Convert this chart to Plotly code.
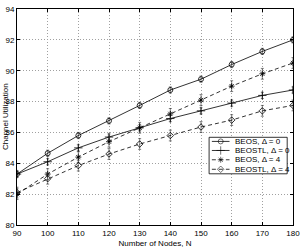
import plotly.graph_objects as go

nodes = [90, 100, 110, 120, 130, 140, 150, 160, 170, 180]
beos_d0 = [83.3, 84.65, 85.8, 86.75, 87.75, 88.75, 89.45, 90.4, 91.25, 92.0]
beostl_d0 = [83.3, 84.1, 85.0, 85.7, 86.3, 86.9, 87.4, 87.9, 88.4, 88.75]
beos_d4 = [82.0, 83.3, 84.4, 85.4, 86.3, 87.2, 88.1, 89.0, 89.8, 90.5]
beostl_d4 = [82.1, 83.0, 83.85, 84.6, 85.25, 85.8, 86.35, 86.8, 87.4, 87.75]
err_d0 = [0.2] * 10
err_d4 = [0.35] * 10

series = [
    ("BEOS, Δ = 0", beos_d0, err_d0, "solid", "circle-open", 5),
    ("BEOSTL, Δ = 0", beostl_d0, err_d0, "solid", "cross-thin-open", 6),
    ("BEOS, Δ = 4", beos_d4, err_d4, "4px,3px", "asterisk-open", 5),
    ("BEOSTL, Δ = 4", beostl_d4, err_d4, "4px,3px", "diamond-open", 5),
]

# legend layout (paper fractions)
LEG_BOX = (0.696, 0.237, 0.979, 0.406)
LEG_ROWS = [0.387, 0.345, 0.302, 0.258]
LEG_LINE = (0.706, 0.770)
LEG_MARK = 0.738
LEG_TEXT = 0.781

fig = go.Figure()
for name, ys, err, dash, sym, sz in series:
    fig.add_trace(go.Scatter(
        x=nodes, y=ys, name=name, mode="lines+markers", showlegend=False,
        line=dict(color="black", width=0.8, dash=dash),
        marker=dict(symbol=sym, size=sz, color="black", line=dict(width=0.8, color="black")),
        error_y=dict(type="data", array=err, visible=True, thickness=0.6, width=1.5, color="#333"),
    ))

font = dict(family="Liberation Sans, Arial, sans-serif", size=8, color="black")

# legend box (drawn on overlay axis so that samples sit above it)
bx0, by0, bx1, by1 = LEG_BOX
fig.add_trace(go.Scatter(
    x=[bx0, bx1, bx1, bx0, bx0], y=[by0, by0, by1, by1, by0], xaxis="x2", yaxis="y2",
    mode="lines", fill="toself", fillcolor="white", line=dict(color="black", width=0.8),
    showlegend=False, hoverinfo="skip"))
for (name, ys, err, dash, sym, sz), yy in zip(series, LEG_ROWS):
    fig.add_trace(go.Scatter(
        x=[LEG_LINE[0], LEG_MARK, LEG_LINE[1]], y=[yy, yy, yy], xaxis="x2", yaxis="y2",
        mode="lines+markers", showlegend=False, hoverinfo="skip",
        line=dict(color="black", width=0.8, dash=dash),
        marker=dict(symbol=sym, size=[0, sz, 0], color="black", line=dict(width=0.8, color="black")),
    ))
    fig.add_annotation(text=name, xref="paper", yref="paper", x=LEG_TEXT, y=yy,
                       xanchor="left", yanchor="middle", showarrow=False, font=font)

axis_common = dict(showline=True, linecolor="black", linewidth=1, mirror="ticks",
                   ticks="inside", ticklen=3, tickcolor="black",
                   showgrid=True, gridcolor="#a0a0a0", griddash="1px,2px", gridwidth=0.7,
                   zeroline=False, tickfont=font, ticklabeloverflow="allow")
fig.update_layout(
    width=305, height=251,
    margin=dict(l=17, r=5, t=6, b=21),
    paper_bgcolor="white", plot_bgcolor="white",
    font=font,
    showlegend=False,
    xaxis=dict(range=[90, 180], dtick=10, tick0=90,
               title=dict(text="Number of Nodes, N", font=font, standoff=3), **axis_common),
    yaxis=dict(range=[80, 94], dtick=2, tick0=80, **axis_common),
    xaxis2=dict(overlaying="x", range=[0, 1], visible=False, fixedrange=True),
    yaxis2=dict(overlaying="y", range=[0, 1], visible=False, fixedrange=True),
)
fig.add_annotation(text="Channel Utilization", textangle=-90, xref="paper", yref="paper",
                   x=0, y=0.5, xshift=-12, showarrow=False, font=font, xanchor="center", yanchor="middle")

fig.write_html("out.html")
